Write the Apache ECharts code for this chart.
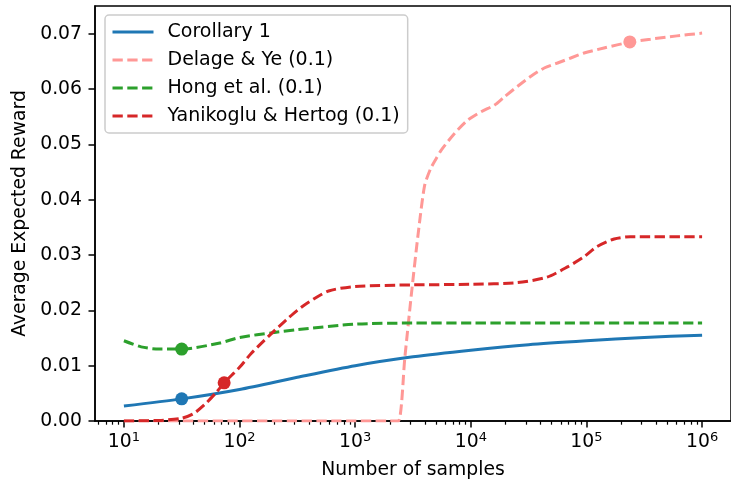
<!DOCTYPE html>
<html><head><meta charset="utf-8">
<script src="https://cdn.jsdelivr.net/npm/echarts@6/dist/echarts.min.js"></script>
<style>html,body{margin:0;padding:0;background:#fff}#c{width:731px;height:487px}</style>
</head><body><div id="c"></div>
<script>
const FONT = 'DejaVu Sans';
const seriesNames = ['Corollary 1', 'Delage & Ye (0.1)', 'Hong et al. (0.1)', 'Yanikoglu & Hertog (0.1)'];
const seriesColors = ['#1f77b4', '#ff9896', '#2ca02c', '#d62728'];

// Corollary 1
const corX = [10, 31.6, 100, 316, 1000, 3162, 10000, 31623, 100000, 316228, 1000000];
const corY = [0.0027, 0.0040, 0.0057, 0.0079, 0.0100, 0.0116, 0.0128, 0.0138, 0.0145, 0.0151, 0.0155];

// Delage & Ye (0.1)
const delX = [10, 2000, 2360, 2692, 3069, 3508, 3981, 4467, 5012, 5572, 7261, 9441, 12303, 16032, 19543, 25410, 33113, 43152, 56234, 73114, 95280, 141579, 240436, 357273, 605340, 1000000];
const delY = [0, 0, 0, 0.0116, 0.0231, 0.0339, 0.0425, 0.0455, 0.0474, 0.0490, 0.0520, 0.0544, 0.0559, 0.0571, 0.0586, 0.0605, 0.0623, 0.0638, 0.0647, 0.0656, 0.0665, 0.0674, 0.0685, 0.0690, 0.0696, 0.0701];

// Hong et al. (0.1)
const hongX = [10, 14.1, 20, 31.6, 67.6, 100, 200, 316, 1000, 3162, 10000, 100000, 1000000];
const hongY = [0.0145, 0.0134, 0.0130, 0.0130, 0.0141, 0.0151, 0.0160, 0.0165, 0.0175, 0.0177, 0.0177, 0.0177, 0.0177];

// Yanikoglu & Hertog (0.1)
const yanX = [10, 20, 31.6, 39.8, 50.1, 63.1, 73.6, 100, 126, 178, 251, 316, 398, 589, 1000, 3162, 10000, 25119, 45709, 69183, 95499, 123027, 173780, 239883, 1000000];
const yanY = [0, 0.0001, 0.0005, 0.0013, 0.0030, 0.0052, 0.0069, 0.0097, 0.0122, 0.0153, 0.0182, 0.0200, 0.0215, 0.0235, 0.0243, 0.0246, 0.0247, 0.0250, 0.0260, 0.0279, 0.0297, 0.0315, 0.0329, 0.0333, 0.0333];

// highlighted points (one per series, same order as seriesNames)
const markerX = [31.6, 237000, 31.6, 73.6];
const markerY = [0.0040, 0.0685, 0.0130, 0.0069];

const xMajorTicks = [10, 100, 1000, 10000, 100000, 1000000];
const xMinorMultipliers = [2, 3, 4, 5, 6, 7, 8, 9];
const xMinorTicks = [];
[1, 10, 100, 1000, 10000, 100000].forEach(function (d) {
  xMinorMultipliers.forEach(function (m) { xMinorTicks.push(m * d); });
});

const xs = [corX, delX, hongX, yanX];
const ys = [corY, delY, hongY, yanY];
const dashes = ['solid', [10.3, 4.5], [10.3, 4.5], [10.3, 4.5]];
const zs = [4, 2, 3, 5];

const XMIN = Math.pow(10, 0.75), XMAX = Math.pow(10, 6.25);
const axisLineStyle = { color: '#000', width: 1.5 };

const series = seriesNames.map(function (name, i) {
  return {
    type: 'line', name: name, xAxisIndex: 0, yAxisIndex: 0,
    data: xs[i].map(function (x, k) { return [x, ys[i][k]]; }),
    symbol: 'none', smooth: 0.25, z: zs[i],
    lineStyle: { color: seriesColors[i], width: 3, type: dashes[i], cap: 'butt' },
    itemStyle: { color: seriesColors[i] },
    animation: false
  };
});
series.push({
  type: 'scatter', name: 'markers', xAxisIndex: 0, yAxisIndex: 0, z: 10,
  symbolSize: 13, animation: false,
  data: markerX.map(function (x, i) {
    return { value: [x, markerY[i]], itemStyle: { color: seriesColors[i], opacity: 1 } };
  })
});

const chart = echarts.init(document.getElementById('c'), null, { renderer: 'canvas' });
chart.setOption({
  animation: false,
  textStyle: { fontFamily: FONT },
  grid: { left: 95, top: 6, width: 639, height: 415, show: true, borderColor: '#000', borderWidth: 1.5 },
  legend: {
    data: seriesNames, orient: 'vertical', left: 105, top: 15,
    padding: [7, 8, 7, 6], itemWidth: 41, itemHeight: 14, itemGap: 8,
    borderColor: '#cccccc', borderWidth: 1.5, borderRadius: 4,
    backgroundColor: 'rgba(255,255,255,0.8)',
    itemStyle: { opacity: 0 },
    lineStyle: { width: 3 },
    textStyle: { fontSize: 19, fontFamily: FONT, color: '#000', lineHeight: 20, padding: [0, 0, 0, 9] }
  },
  xAxis: [{
    type: 'log', logBase: 10, min: XMIN, max: XMAX, gridIndex: 0, position: 'bottom',
    axisLine: { show: true, lineStyle: axisLineStyle },
    axisTick: { show: true, customValues: xMajorTicks, length: 6.5, lineStyle: axisLineStyle },
    minorTick: { show: false }, splitLine: { show: false },
    axisLabel: {
      customValues: xMajorTicks, margin: 10,
      formatter: function (v) { return '{b|10}{s|' + Math.round(Math.log10(v)) + '}'; },
      rich: {
        b: { fontSize: 18.8, fontFamily: FONT, color: '#000', lineHeight: 22 },
        s: { fontSize: 13, fontFamily: FONT, color: '#000', lineHeight: 22, verticalAlign: 'top' }
      }
    },
    name: 'Number of samples', nameLocation: 'middle', nameGap: 40,
    nameTextStyle: { fontSize: 18.8, fontFamily: FONT, color: '#000' }
  }, {
    type: 'log', logBase: 10, min: XMIN, max: XMAX, gridIndex: 0, position: 'bottom',
    axisLine: { show: false },
    axisTick: { show: true, customValues: xMinorTicks, length: 3.7, lineStyle: { color: '#000', width: 1.2 } },
    axisLabel: { show: false }, splitLine: { show: false }, minorTick: { show: false }
  }],
  yAxis: {
    type: 'value', min: 0, max: 0.075, interval: 0.01,
    axisLine: { show: true, lineStyle: axisLineStyle },
    axisTick: { show: true, length: 6.5, lineStyle: axisLineStyle },
    splitLine: { show: false },
    axisLabel: {
      showMaxLabel: false, margin: 13, fontSize: 18.8, fontFamily: FONT, color: '#000',
      formatter: function (v) { return v.toFixed(2); }
    },
    name: 'Average Expected Reward', nameLocation: 'middle', nameGap: 62,
    nameTextStyle: { fontSize: 18.8, fontFamily: FONT, color: '#000' }
  },
  series: series
});
</script></body></html>
